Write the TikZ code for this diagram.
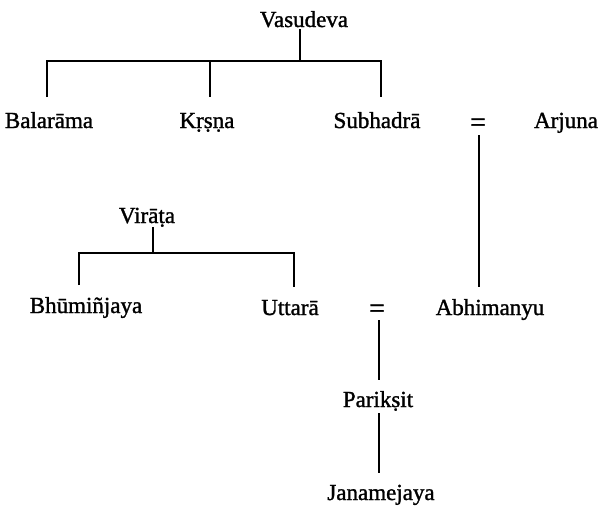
\documentclass[tikz,border=0pt]{standalone}
\usepackage{fontspec}
\setmainfont{Liberation Serif}[FakeBold=1.3]
\begin{document}
\begin{tikzpicture}[x=1pt,y=-1pt,
  person/.style={anchor=base,inner sep=0pt,font=\fontsize{23}{26}\selectfont},
  marriage/.style={anchor=center,inner sep=0pt,font=\fontsize{28}{30}\selectfont},
  link/.style={line width=1.6pt,line join=miter}]
\useasboundingbox (0,0) rectangle (601,507);
% people
\node[person] (vasudeva)   at (304,27)  {Vasudeva};
\node[person] (balarama)   at (49,128)  {Balarāma};
\node[person] (krsna)      at (207,128) {Kṛṣṇa};
\node[person] (subhadra)   at (377,128) {Subhadrā};
\node[marriage] (eqa)      at (478,125) {=};
\node[person] (arjuna)     at (566,128) {Arjuna};
\node[person] (virata)     at (147,223) {Virāṭa};
\node[person] (bhumi)      at (86,313)  {Bhūmiñjaya};
\node[person] (uttara)     at (290,315) {Uttarā};
\node[marriage] (eqb)      at (377,311) {=};
\node[person] (abhimanyu)  at (490,315) {Abhimanyu};
\node[person] (pariksit)   at (378,407) {Parikṣit};
\node[person] (janamejaya) at (381,500) {Janamejaya};
% junction coordinates
\coordinate (vtop) at (300,29);
\coordinate (vbar) at (300,61);
\coordinate (balTop) at (47,97);
\coordinate (balBar) at (47,61);
\coordinate (krsTop) at (210,97);
\coordinate (krsBar) at (210,61);
\coordinate (subTop) at (381,97);
\coordinate (subBar) at (381,61);
\coordinate (eqaBot) at (479,135);
\coordinate (abhTop) at (479,287);
\coordinate (vtTop) at (153,227);
\coordinate (vtBar) at (153,253);
\coordinate (bhuTop) at (79,285);
\coordinate (bhuBar) at (79,253);
\coordinate (uttTop) at (294,287);
\coordinate (uttBar) at (294,253);
\coordinate (eqbBot) at (379,320);
\coordinate (parTop) at (379,380);
\coordinate (parBot) at (379,413);
\coordinate (janTop) at (379,473);
% connectors
\draw[link] (vtop) -- (vbar);
\draw[link] (balTop) -- (balBar) -- (subBar) -- (subTop);
\draw[link] (krsBar) -- (krsTop);
\draw[link] (eqaBot) -- (abhTop);
\draw[link] (vtTop) -- (vtBar);
\draw[link] (bhuTop) -- (bhuBar) -- (uttBar) -- (uttTop);
\draw[link] (eqbBot) -- (parTop);
\draw[link] (parBot) -- (janTop);
\end{tikzpicture}
\end{document}
